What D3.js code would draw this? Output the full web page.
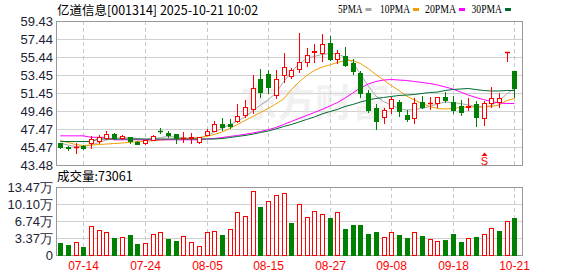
<!DOCTYPE html>
<html>
<head>
<meta charset="utf-8">
<script src="https://cdn.jsdelivr.net/npm/d3@7"></script>
<style>
  body { margin: 0; background: #fff; }
  svg { display: block; }
  text { font-family: "Liberation Sans", Arial, sans-serif; }
</style>
</head>
<body>
<svg id="chart" width="578" height="276"></svg>
<script>
// daily candles
const opens = [45.88,45.45,45.42,45.55,45.88,46.15,46.45,46.95,46.45,46.55,
  46.05,45.88,46.25,47.30,47.05,46.90,46.45,46.48,46.00,46.80,
  47.28,48.00,48.05,48.40,49.00,49.70,52.97,53.55,51.23,53.45,
  53.30,54.08,54.92,55.95,55.85,56.96,55.19,55.55,54.74,53.64,
  51.42,49.76,48.76,49.76,50.49,49.02,48.65,50.49,50.35,50.38,
  51.05,50.49,50.00,49.95,50.24,48.65,50.38,50.49,55.96,53.89];
const highs = [45.95,45.60,45.88,45.65,46.69,46.80,47.20,47.05,46.80,46.60,
  46.10,46.30,46.85,47.60,47.20,46.95,47.10,46.98,46.60,47.45,
  48.40,48.65,48.60,50.20,50.68,53.45,54.10,54.00,54.00,55.85,
  54.20,58.07,56.40,56.90,58.00,57.77,56.22,56.60,55.20,53.92,
  51.79,50.24,49.76,51.05,50.68,49.57,50.87,51.12,51.05,51.05,
  51.60,51.12,50.68,50.87,50.60,50.60,52.08,51.49,55.96,53.89];
const lows = [45.35,45.10,44.85,45.25,45.33,45.90,46.40,46.40,46.35,45.90,
  45.80,45.85,46.20,47.00,46.60,45.95,46.00,45.95,45.95,46.75,
  47.20,47.40,47.55,48.20,48.80,49.20,51.05,51.50,50.87,52.70,
  53.10,53.80,54.45,54.90,55.00,55.15,54.74,54.45,53.56,51.05,
  49.38,47.47,48.16,49.20,48.90,48.40,48.16,49.76,49.65,49.95,
  50.49,49.20,49.02,49.57,47.83,47.90,49.94,49.94,55.03,51.05];
const closes = [45.42,45.38,45.50,45.40,46.33,46.55,46.90,46.45,46.70,46.10,
  45.85,46.25,46.70,47.25,46.80,46.45,46.50,46.55,46.60,47.25,
  47.98,47.72,47.80,48.90,49.87,51.97,51.60,52.15,52.97,54.37,
  54.00,54.92,55.66,56.10,56.88,55.19,55.85,54.56,53.92,51.49,
  49.57,48.39,49.57,50.75,49.49,48.54,50.31,49.94,50.40,50.98,
  50.68,49.57,49.38,50.02,48.76,50.31,50.94,50.87,55.96,52.04];
// volume in 万
const volumes = [2.42,1.95,2.55,1.62,5.71,4.92,4.53,3.37,3.50,3.93,
  2.18,2.35,4.13,4.53,3.17,2.80,3.76,2.58,1.78,4.56,
  4.75,3.96,5.15,8.50,7.70,12.65,9.55,10.70,11.89,12.28,
  6.40,10.10,7.53,8.72,8.12,7.39,8.52,5.15,5.94,5.94,
  4.16,4.62,3.50,4.56,3.96,3.37,4.50,3.70,3.10,2.77,
  2.97,4.16,2.58,3.30,3.50,4.10,5.28,4.75,6.67,7.3061];

// moving averages as drawn
const ma5 = [45.91,45.69,45.53,45.53,45.69,45.97,46.25,46.41,46.52,46.52,
  46.41,46.30,46.36,46.52,46.64,46.58,46.52,46.41,46.47,46.69,
  47.13,47.52,47.96,48.35,48.80,49.46,50.12,50.68,51.45,52.67,
  53.78,54.67,55.28,55.50,55.72,55.83,55.77,55.44,54.83,53.56,
  52.23,51.12,50.51,50.12,49.74,49.57,49.63,49.74,49.96,50.24,
  50.46,50.40,50.29,50.12,49.96,49.90,50.07,50.57,51.34,51.95];
const ma10 = [46.19,45.97,45.75,45.64,45.69,45.75,45.80,45.86,45.91,45.99,
  46.06,46.11,46.17,46.22,46.30,46.36,46.41,46.47,46.52,46.64,
  46.86,47.13,47.52,47.96,48.41,48.85,49.29,49.74,50.24,50.79,
  51.79,52.67,53.39,53.95,54.33,54.56,54.83,55.05,55.05,54.72,
  54.17,53.50,52.89,52.28,51.73,51.12,50.68,50.29,49.96,49.74,
  49.68,49.74,49.85,49.90,49.90,49.90,49.96,50.12,50.62,50.84];
const ma20 = [46.71,46.71,46.71,46.71,46.55,46.55,46.55,46.27,46.27,46.27,
  46.27,46.27,46.27,46.27,46.27,46.27,46.27,46.27,46.27,46.36,
  46.41,46.52,46.64,46.75,46.88,47.02,47.19,47.39,47.63,47.96,
  48.30,48.63,48.96,49.29,49.63,50.01,50.40,50.90,51.45,52.01,
  52.45,52.73,52.89,52.95,52.89,52.84,52.73,52.62,52.51,52.34,
  52.12,51.90,51.56,51.23,50.96,50.73,50.51,50.35,50.29,50.29];
const ma30 = [46.08,46.08,46.08,46.08,46.08,46.36,46.36,46.36,46.36,46.36,
  46.36,46.36,46.36,46.36,46.36,46.36,46.36,46.36,46.36,46.36,
  46.36,46.41,46.52,46.64,46.75,46.89,47.08,47.24,47.47,47.74,
  47.96,48.24,48.52,48.80,49.13,49.40,49.63,49.96,50.18,50.46,
  50.68,50.84,50.96,51.07,51.18,51.23,51.29,51.40,51.51,51.56,
  51.73,51.84,51.90,51.95,51.84,51.73,51.68,51.68,51.73,51.73];

const priceTicks = [59.43, 57.44, 55.44, 53.45, 51.45, 49.46, 47.47, 45.47, 43.48];
const volTicks = [0, 3.37, 6.74, 10.10, 13.47];
const dateLabels = ["07-14", "07-24", "08-05", "08-15", "08-27", "09-08", "09-18", "10-21"];
const dateIndex = [3, 11, 19, 27, 35, 43, 51, 59];
const signals = [{ i: 55, label: "S" }];

const maNames = ["5PMA", "10PMA", "20PMA", "30PMA"];
const maColors = ["#a8a8a8", "#f0a000", "#ff00ff", "#006a32"];

const RED = "#ff0000", GREEN = "#008000";
const left = 56, right = 522;
const top1 = 21, bot1 = 165, top2 = 187, bot2 = 255;

const svg = d3.select("#chart");

const x = d3.scaleLinear().domain([0, closes.length - 1]).range([60.3, 514.4]);
const y = d3.scaleLinear().domain([43.48, 59.43]).range([bot1, top1]);
const vy = d3.scaleLinear().domain([0, 13.47]).range([bot2, top2]);
const px = i => Math.round(x(i)) + 0.5;

// price axis + grid
const ga = svg.append("g").attr("transform", `translate(${left},0)`)
  .call(d3.axisLeft(y).tickValues(priceTicks).tickSize(-(right - left))
    .tickPadding(3).tickFormat(d3.format(".2f")));
ga.select(".domain").remove();
ga.selectAll(".tick line").attr("stroke", "#d0d0d0");
ga.selectAll(".tick text").attr("fill", "#1a2335").style("font-size", "13px")
  .style("font-family", "Liberation Sans, Arial, sans-serif");

// volume axis + grid
const gv = svg.append("g").attr("transform", `translate(${left},0)`)
  .call(d3.axisLeft(vy).tickValues(volTicks).tickSize(-(right - left))
    .tickPadding(3).tickFormat(d => d === 0 ? "0" : d.toFixed(2) + "万"));
gv.select(".domain").remove();
gv.selectAll(".tick line").attr("stroke", "#d0d0d0");
gv.selectAll(".tick text").attr("fill", "#1a2335").style("font-size", "13px")
  .style("font-family", "Liberation Sans, Arial, sans-serif");

// vertical dashed grid
[[top1, bot1], [top2, bot2]].forEach(([a, b]) => {
  svg.append("g").selectAll("line").data(dateIndex).join("line")
    .attr("x1", d => px(d)).attr("x2", d => px(d))
    .attr("y1", a).attr("y2", b)
    .attr("stroke", "#c8c8c8").attr("stroke-dasharray", "4,3");
});

// watermark
svg.append("text").attr("x", 240).attr("y", 116)
  .attr("textLength", 150).attr("lengthAdjust", "spacingAndGlyphs")
  .style("font-family", "Noto Sans CJK SC").style("font-size", "38px")
  .style("font-weight", "bold").attr("fill", "#e2e2e2").attr("opacity", 0.45)
  .text("东方财富");

// panel borders
svg.append("rect").attr("x", left + 0.5).attr("y", top1 + 0.5)
  .attr("width", right - left).attr("height", bot1 - top1)
  .attr("fill", "none").attr("stroke", "#999");
svg.append("rect").attr("x", left + 0.5).attr("y", top2 + 0.5)
  .attr("width", right - left).attr("height", bot2 - top2)
  .attr("fill", "none").attr("stroke", "#999");

svg.append("clipPath").attr("id", "clip1").append("rect")
  .attr("x", left + 1).attr("y", top1 + 1).attr("width", right - left - 1).attr("height", bot1 - top1 - 1);

const plot = svg.append("g").attr("clip-path", "url(#clip1)");

// moving averages
const line = d3.line().x((d, i) => x(i)).y(d => y(d));
[ma5, ma10, ma20, ma30].forEach((s, k) => {
  plot.append("path").datum(s).attr("d", line)
    .attr("fill", "none").attr("stroke", maColors[k]).attr("stroke-width", 1);
});

// candles
const isUp = i => closes[i] > opens[i] || (closes[i] === opens[i] && i > 0 && closes[i] >= closes[i - 1]);
const bodyTop = i => Math.round(y(Math.max(opens[i], closes[i])));
const bodyBot = i => Math.round(y(Math.min(opens[i], closes[i])));
const candles = plot.selectAll("g.c").data(closes.map((c, i) => i)).join("g").attr("class", "c");
candles.append("line")
  .attr("x1", px).attr("x2", px)
  .attr("y1", i => Math.round(y(highs[i]))).attr("y2", i => Math.round(y(lows[i])) + 1)
  .attr("stroke", i => isUp(i) ? RED : GREEN);
candles.filter(i => bodyBot(i) - bodyTop(i) >= 1).append("rect")
  .attr("x", i => px(i) - 2)
  .attr("y", i => bodyTop(i) + 0.5)
  .attr("width", 4)
  .attr("height", i => bodyBot(i) - bodyTop(i))
  .attr("fill", i => isUp(i) ? "#fff" : GREEN)
  .attr("stroke", i => isUp(i) ? RED : GREEN);
// flat bodies as a short bar
candles.filter(i => bodyBot(i) - bodyTop(i) < 1).append("line")
  .attr("x1", i => px(i) - 2.5).attr("x2", i => px(i) + 2.5)
  .attr("y1", i => bodyTop(i) + 0.5).attr("y2", i => bodyTop(i) + 0.5)
  .attr("stroke", i => isUp(i) ? RED : GREEN).attr("stroke-width", 1.5);

// signal markers
signals.forEach(s => {
  const cx = px(s.i);
  svg.append("path").attr("d", `M${cx - 3},156 L${cx + 3},156 L${cx},152.5 Z`).attr("fill", RED);
  svg.append("text").attr("x", cx).attr("y", 165).attr("text-anchor", "middle")
    .attr("fill", RED).style("font-size", "11px").text(s.label);
});

// volume bars: colour by close against previous close
const volUp = i => i === 0 ? closes[0] >= opens[0] : closes[i] >= closes[i - 1];
svg.append("g").selectAll("rect").data(volumes).join("rect")
  .attr("x", (d, i) => px(i) - 2)
  .attr("y", d => Math.round(vy(d)) + 0.5)
  .attr("width", 4)
  .attr("height", d => bot2 - Math.round(vy(d)))
  .attr("fill", (d, i) => volUp(i) ? "#fff" : GREEN)
  .attr("stroke", (d, i) => volUp(i) ? RED : GREEN);

// date labels
svg.append("g").selectAll("text").data(dateLabels).join("text")
  .attr("x", (d, i) => px(dateIndex[i])).attr("y", 270)
  .attr("text-anchor", "middle").attr("fill", RED)
  .style("font-size", "12px").text(d => d);

// title
svg.append("text").attr("x", 57).attr("y", 15)
  .style("font-family", "Noto Sans CJK SC").style("font-size", "12.5px").attr("fill", "#000")
  .text("亿道信息[001314] 2025-10-21 10:02");

// legend
const legendX = [338, 380, 425, 471.5];
const legendW = [24.5, 30, 31, 30.5];
maNames.forEach((n, k) => {
  svg.append("text").attr("x", legendX[k]).attr("y", 13)
    .attr("textLength", legendW[k]).attr("lengthAdjust", "spacingAndGlyphs")
    .style("font-family", "Liberation Serif, serif").style("font-size", "12px").attr("fill", "#000")
    .text(n);
  svg.append("rect").attr("x", legendX[k] + legendW[k] + 3).attr("y", 8)
    .attr("width", 6).attr("height", 3).attr("fill", maColors[k]);
});

// volume caption
svg.append("text").attr("x", 57).attr("y", 181)
  .style("font-family", "Noto Sans CJK SC").style("font-size", "12.5px").attr("fill", "#000")
  .text("成交量:" + Math.round(volumes[volumes.length - 1] * 10000));
</script>
</body>
</html>
